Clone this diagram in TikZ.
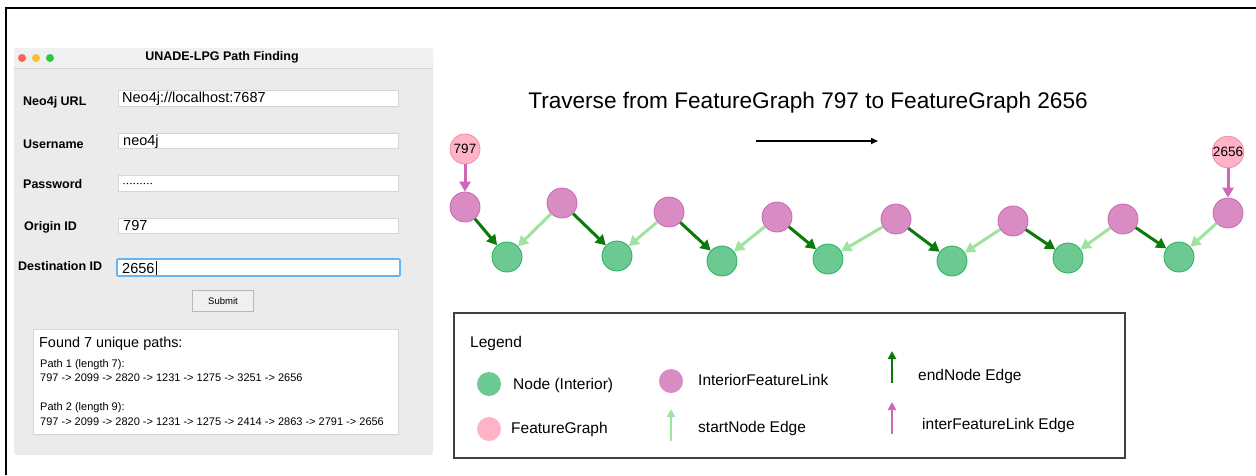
\documentclass[tikz,border=0pt]{standalone}
\usepackage{fontspec}
\setmainfont{Liberation Sans}
\usetikzlibrary{arrows.meta}

\definecolor{interiorfill}{HTML}{6CC991}
\definecolor{interiordraw}{HTML}{22B45E}
\definecolor{linkfill}{HTML}{D98BC3}
\definecolor{linkdraw}{HTML}{C868AE}
\definecolor{fgfill}{HTML}{FFB3C7}
\definecolor{fgdraw}{HTML}{F58BA8}
\definecolor{endedge}{HTML}{0B7A0B}
\definecolor{startedge}{HTML}{A0E2A0}
\definecolor{linkedge}{HTML}{D066B8}
\definecolor{winbg}{HTML}{EBEBEB}
\definecolor{titlebg}{HTML}{F0F0F0}
\definecolor{winline}{HTML}{D4D4D4}
\definecolor{fieldline}{HTML}{D6D6D6}
\definecolor{focusblue}{HTML}{6AB2F2}
\definecolor{btnline}{HTML}{B8B8B8}
\definecolor{tlred}{HTML}{FF5F57}
\definecolor{tlyellow}{HTML}{FEBC2E}
\definecolor{tlgreen}{HTML}{28C840}
\definecolor{legendline}{HTML}{404040}

\tikzset{
  interior/.style={circle, minimum size=30pt, inner sep=0pt, fill=interiorfill, draw=interiordraw, line width=0.8pt},
  link/.style={circle, minimum size=30pt, inner sep=0pt, fill=linkfill, draw=linkdraw, line width=0.8pt},
  fg/.style={circle, minimum size=30pt, inner sep=0pt, fill=fgfill, draw=fgdraw, line width=0.8pt,
    font=\fontsize{13.5}{14}\selectfont},
  endE/.style={draw=endedge, line width=3pt, -{Triangle[length=10pt,width=11pt]}},
  startE/.style={draw=startedge, line width=3pt, -{Triangle[length=10pt,width=11pt]}},
  lnkE/.style={draw=linkedge, line width=3pt, -{Triangle[length=10pt,width=11pt]}},
  keyarrow/.style={line width=2pt, -{Triangle[length=8pt,width=8pt]}},
  dot/.style={circle, minimum size=24pt, inner sep=0pt},
  guilabel/.style={anchor=base west, inner sep=0pt, font=\fontsize{12.5}{14}\selectfont\bfseries},
  fieldtext/.style={anchor=base west, inner sep=0pt, font=\fontsize{14.5}{16}\selectfont},
  field/.style={draw=fieldline, fill=white, line width=0.6pt},
  pathtext/.style={anchor=base west, inner sep=0pt, font=\fontsize{11}{13}\selectfont},
  legendtext/.style={anchor=west, inner sep=0pt, font=\fontsize{15.5}{17}\selectfont},
  light/.style={circle, minimum size=8pt, inner sep=0pt},
}

\begin{document}
\begin{tikzpicture}[x=1pt, y=-1pt]
\useasboundingbox (0,0) rectangle (1256,475);
\fill[white] (0,0) rectangle (1256,475);
% outer frame (top and left edges)
\draw[line width=2.5pt] (6,475) -- (6,8) -- (1256,8);

% ---------------- application window ----------------
\fill[winbg, rounded corners=3pt] (14,48) rectangle (433,455);
\fill[titlebg, rounded corners=3pt] (14,48) rectangle (433,68);
\fill[titlebg] (14,60) rectangle (433,68);
\draw[winline, line width=0.6pt] (14,68) -- (433,68);
\node[light, fill=tlred] (close) at (22,58) {};
\node[light, fill=tlyellow] (mini) at (36,58) {};
\node[light, fill=tlgreen] (zoom) at (50,58) {};
\node[inner sep=0pt, font=\fontsize{12.5}{14}\selectfont\bfseries] (wtitle) at (222,57) {UNADE-LPG Path Finding};

% form rows
\node[guilabel] (lurl) at (23,105.5) {Neo4j URL};
\draw[field] (118,90) rectangle (398,106);
\node[fieldtext] (vurl) at (122,102.5) {Neo4j://localhost:7687};

\node[guilabel] (luser) at (23,148) {Username};
\draw[field] (118,133) rectangle (398,148);
\node[fieldtext] (vuser) at (123,145) {neo4j};

\node[guilabel] (lpass) at (23,188) {Password};
\draw[field] (118,175) rectangle (398,191);
\foreach \i in {0,...,8} \fill (124+3.4*\i,183.5) circle (0.75pt);

\node[guilabel] (lorig) at (24,230.5) {Origin ID};
\draw[field] (118,218) rectangle (398,233);
\node[fieldtext] (vorig) at (123,230.5) {797};

\node[guilabel] (ldest) at (18,270.5) {Destination ID};
\draw[draw=focusblue, fill=white, line width=1.6pt, rounded corners=1pt] (117,259) rectangle (400,276);
\node[fieldtext] (vdest) at (122,273) {2656};
\draw[line width=0.7pt] ([xshift=1.5pt]vdest.east |- 0,261) -- ([xshift=1.5pt]vdest.east |- 0,275);

\node[draw=btnline, fill=titlebg, minimum width=61pt, minimum height=21pt, inner sep=0pt,
  font=\fontsize{9.5}{11}\selectfont] (submit) at (223,301) {Submit};

% result panel
\draw[field] (33,329) rectangle (398,434);
\node[inner sep=0pt, anchor=base west, font=\fontsize{14.4}{16}\selectfont] (found) at (39,347.5) {Found 7 unique paths:};
\node[pathtext] (p1h) at (40,367) {Path 1 (length 7):};
\node[pathtext] (p1) at (40,381.5) {797 -> 2099 -> 2820 -> 1231 -> 1275 -> 3251 -> 2656};
\node[pathtext] (p2h) at (40,410.5) {Path 2 (length 9):};
\node[pathtext] (p2) at (40,425) {797 -> 2099 -> 2820 -> 1231 -> 1275 -> 2414 -> 2863 -> 2791 -> 2656};

% ---------------- traversal ----------------
\node[inner sep=0pt, font=\fontsize{22.6}{26}\selectfont] (ttl) at (808,103) {Traverse from FeatureGraph 797 to FeatureGraph 2656};
\coordinate (dirA) at (756,141);
\coordinate (dirB) at (878,141);
\draw[line width=1.6pt, -{Triangle[length=7pt,width=6pt]}] (dirA) -- (dirB);

\node[fg] (f797) at (465,149) {797};
\node[fg] (f2656) at (1228,152) {2656};

\node[link] (l1) at (465,207) {};
\node[link] (l2) at (562,203) {};
\node[link] (l3) at (669,212) {};
\node[link] (l4) at (777,217) {};
\node[link] (l5) at (896,219) {};
\node[link] (l6) at (1013,221) {};
\node[link] (l7) at (1123,219) {};
\node[link] (l8) at (1228,213) {};

\node[interior] (n1) at (507,257) {};
\node[interior] (n2) at (617,256) {};
\node[interior] (n3) at (722,261) {};
\node[interior] (n4) at (828,259) {};
\node[interior] (n5) at (952,261) {};
\node[interior] (n6) at (1068,258) {};
\node[interior] (n7) at (1179,257) {};

\draw[lnkE] (f797) -- (l1);
\draw[lnkE] (f2656) -- (l8);
\foreach \a/\b in {l1/n1,l2/n2,l3/n3,l4/n4,l5/n5,l6/n6,l7/n7}
  \draw[endE] (\a) -- (\b);
\foreach \a/\b in {l2/n1,l3/n2,l4/n3,l5/n4,l6/n5,l7/n6,l8/n7}
  \draw[startE] (\a) -- (\b);

% ---------------- legend ----------------
\draw[legendline, line width=1.5pt] (454,313) rectangle (1125,458);
\node[legendtext] (lgd) at (470,343) {Legend};

\node[dot, fill=interiorfill] (kint) at (489,384) {};
\node[legendtext] (tint) at (513,385) {Node (Interior)};
\node[dot, fill=fgfill] (kfg) at (489,429) {};
\node[legendtext] (tfg) at (511,429) {FeatureGraph};

\node[dot, fill=linkfill] (klink) at (671,381) {};
\node[legendtext] (tlink) at (698,380) {InteriorFeatureLink};
\coordinate (ksA) at (671,441);
\coordinate (ksB) at (671,409);
\draw[keyarrow, startedge] (ksA) -- (ksB);
\node[legendtext] (tstart) at (698,428) {startNode Edge};

\coordinate (keA) at (892,383);
\coordinate (keB) at (892,351);
\draw[keyarrow, endedge] (keA) -- (keB);
\node[legendtext] (tend) at (918,376) {endNode Edge};
\coordinate (klA) at (892,434);
\coordinate (klB) at (892,402);
\draw[keyarrow, linkedge] (klA) -- (klB);
\node[legendtext] (tlnk) at (922,425) {interFeatureLink Edge};
\end{tikzpicture}
\end{document}
